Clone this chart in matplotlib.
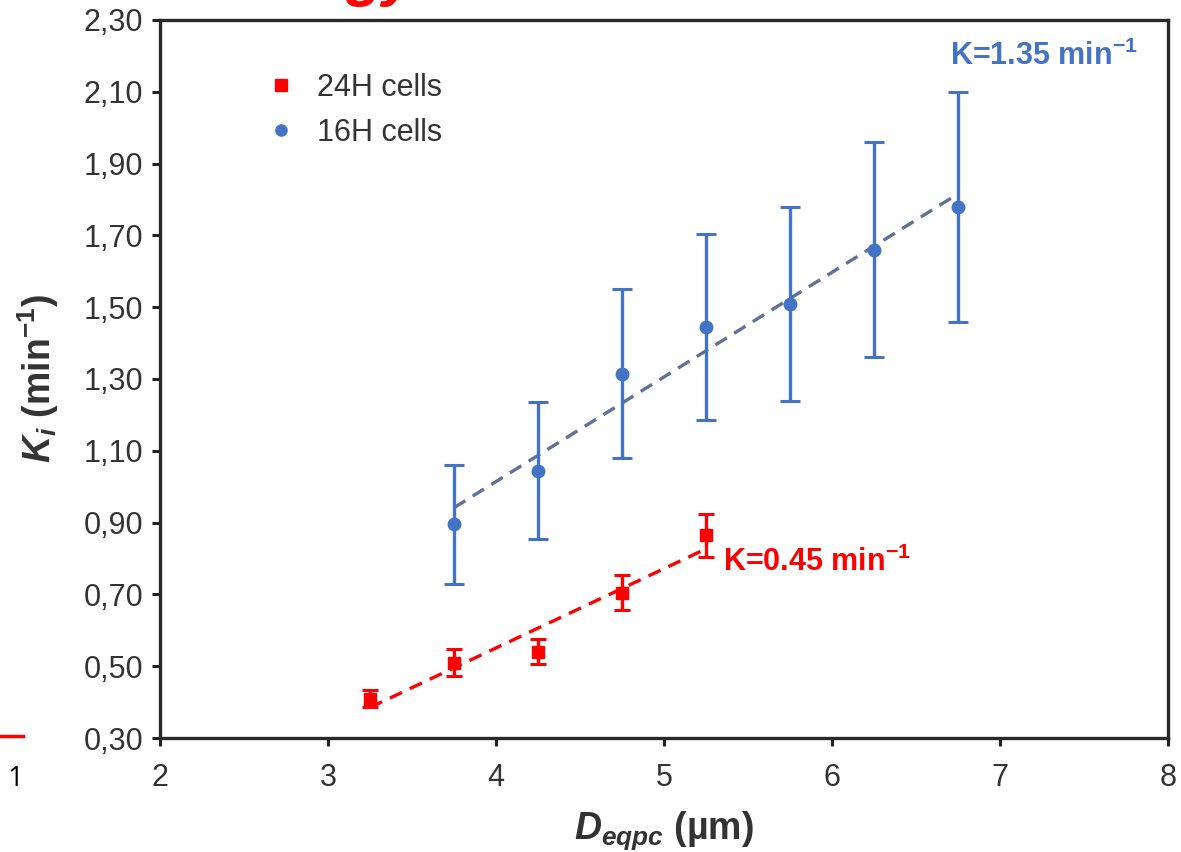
import numpy as np
import matplotlib
matplotlib.use("Agg")
import matplotlib.pyplot as plt
from matplotlib.lines import Line2D

plt.rcParams['font.family'] = ['Liberation Sans', 'DejaVu Sans']
plt.rcParams['mathtext.fontset'] = 'custom'
plt.rcParams['mathtext.rm'] = 'Liberation Sans:bold'
plt.rcParams['mathtext.it'] = 'Liberation Sans:italic:bold'
plt.rcParams['mathtext.bf'] = 'Liberation Sans:bold'

# ---- data ----
x_24h = [3.25, 3.75, 4.25, 4.75, 5.25]
y_24h = [0.41, 0.51, 0.54, 0.705, 0.865]
err_24h = [0.025, 0.038, 0.035, 0.048, 0.06]

x_16h = [3.75, 4.25, 4.75, 5.25, 5.75, 6.25, 6.75]
y_16h = [0.895, 1.045, 1.315, 1.445, 1.51, 1.66, 1.78]
err_16h = [0.165, 0.19, 0.235, 0.26, 0.27, 0.30, 0.32]

x_ticks = [2, 3, 4, 5, 6, 7, 8]
y_ticks = [0.30, 0.50, 0.70, 0.90, 1.10, 1.30, 1.50, 1.70, 1.90, 2.10, 2.30]
y_tick_labels = ['0,30', '0,50', '0,70', '0,90', '1,10', '1,30', '1,50',
                 '1,70', '1,90', '2,10', '2,30']

label_24h = '24H cells'
label_16h = '16H cells'
ann_16h = 'K=1.35 min$^{\\mathbf{-1}}$'
ann_24h = 'K=0.45 min$^{\\mathbf{-1}}$'

RED = '#ff0000'
BLUE = '#4472c4'
TREND_BLUE = '#5f7099'
TXT = '#333333'

fig = plt.figure(figsize=(11.81, 8.52), dpi=100)
ax = fig.add_axes([160/1181, 1-738/852, (1168-160)/1181, (738-20)/852])

# error bars
ax.errorbar(x_16h, y_16h, yerr=err_16h, fmt='o', color=BLUE, ms=9,
            elinewidth=2.4, capsize=7, capthick=2.2, zorder=3)
ax.errorbar(x_24h, y_24h, yerr=err_24h, fmt='s', color=RED, ms=9,
            elinewidth=2.4, capsize=6, capthick=2.2, zorder=3)

# linear trend lines
for xs, ys, c in [(x_16h, y_16h, TREND_BLUE), (x_24h, y_24h, RED)]:
    p = np.polyfit(xs, ys, 1)
    xx = np.array([xs[0], xs[-1]])
    ax.plot(xx, np.polyval(p, xx), linestyle=(0, (4, 2.6)), color=c, lw=2.4, zorder=2)

ax.set_xlim(2, 8)
ax.set_ylim(0.30, 2.30)
ax.set_xticks(x_ticks)
ax.set_xticklabels([str(v) for v in x_ticks])
ax.set_yticks(y_ticks)
ax.set_yticklabels(y_tick_labels)
ax.tick_params(axis='both', direction='out', length=6, width=2.2,
               labelsize=22, colors='#222222', labelcolor=TXT)
ax.tick_params(axis='x', pad=12)
ax.tick_params(axis='y', pad=6)
for s in ax.spines.values():
    s.set_linewidth(2.4)
    s.set_color('#2a2a2a')

ax.set_xlabel('$D_{eqpc}$ (µm)', fontsize=27, fontweight='bold', color=TXT, labelpad=12)
ax.set_ylabel('$K_i$ (min$^{\\mathbf{-1}}$)', fontsize=27, fontweight='bold', color=TXT, labelpad=16)

# legend
handles = [Line2D([], [], marker='s', ls='none', color=RED, ms=9),
           Line2D([], [], marker='o', ls='none', color=BLUE, ms=8)]
leg = ax.legend(handles, [label_24h, label_16h], loc='upper left',
                bbox_to_anchor=(0.075, 0.965), frameon=False, fontsize=22,
                handletextpad=0.55, labelspacing=0.5, handlelength=1.2)
for t in leg.get_texts():
    t.set_color(TXT)

# annotations
ax.text(6.7, 2.20, ann_16h, color=BLUE, fontsize=22, fontweight='bold',
        ha='left', va='center')
ax.text(5.35, 0.79, ann_24h, color=RED, fontsize=22, fontweight='bold',
        ha='left', va='center')

# slide fragments around the chart
fig.text(381/1181, 1.0 + 6/852, 'gy', color=RED, fontsize=44, fontweight='bold',
         fontstyle='italic', ha='center', va='baseline')
fig.add_artist(Line2D([0, 23/1181], [1-736/852, 1-736/852], color=RED, lw=2.5))
fig.text(15/1181, 1-779/852, '1', color='black', fontsize=20,
         family='Open Sans', ha='center', va='center')

fig.savefig('out.png', dpi=100)
